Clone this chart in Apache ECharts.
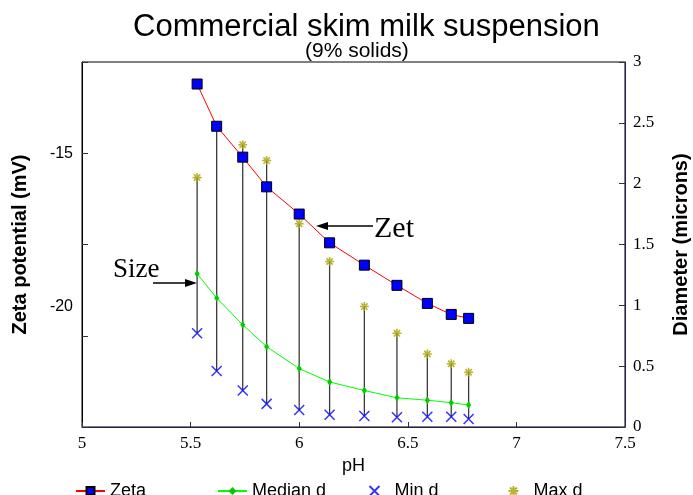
<!DOCTYPE html>
<html>
<head>
<meta charset="utf-8">
<script src="https://cdn.jsdelivr.net/npm/echarts@6/dist/echarts.min.js"></script>
<style>
html,body{margin:0;padding:0;background:#fff;}
#chart{width:693px;height:495px;}
</style>
</head>
<body>
<div id="chart"></div>
<script>
// ---- data ----
var pH      = [5.53, 5.62, 5.74, 5.85, 6.00, 6.14, 6.30, 6.45, 6.59, 6.70, 6.78];
var zeta    = [-12.71, -14.09, -15.10, -16.07, -16.96, -17.90, -18.63, -19.29, -19.88, -20.24, -20.37];
var medianD = [1.26, 1.06, 0.84, 0.66, 0.48, 0.37, 0.30, 0.24, 0.22, 0.20, 0.18];
var minD    = [0.77, 0.46, 0.30, 0.19, 0.14, 0.10, 0.09, 0.08, 0.085, 0.085, 0.066];
var maxD    = [2.05, 2.47, 2.32, 2.19, 1.67, 1.36, 0.99, 0.77, 0.60, 0.52, 0.45];
var xTicks  = [5, 5.5, 6, 6.5, 7, 7.5];
var leftLabels = [-15, -20];

function zip(a, b) { return a.map(function (v, i) { return [v, b[i]]; }); }
var rangeData = pH.map(function (v, i) { return [v, minD[i], maxD[i]]; });

var chart = echarts.init(document.getElementById('chart'), null, {renderer: 'canvas'});
var sans = 'Liberation Sans, Arial, sans-serif';
var serif = 'Liberation Serif, Times New Roman, serif';
var axisCol = '#1e1e50';
var xPath = 'path://M0,0L10,10M10,0L0,10';
var starPath = 'path://M5,0L5,10M0,5L10,5M1.5,1.5L8.5,8.5M8.5,1.5L1.5,8.5';

var option = {
  animation: false,
  backgroundColor: '#fff',
  title: [
    {text: 'Commercial skim milk suspension', left: 128, top: 7,
     textStyle: {fontFamily: sans, fontSize: 31, fontWeight: 'normal', color: '#000'}},
    {text: '(9% solids)', left: 300, top: 36,
     textStyle: {fontFamily: sans, fontSize: 21, fontWeight: 'normal', color: '#000'}}
  ],
  grid: {left: 82, right: 68, top: 62, bottom: 68, show: true, borderColor: '#000', borderWidth: 1,
         outerBoundsMode: 'none', containLabel: false},
  xAxis: {
    type: 'value', min: 5, max: 7.5, interval: 0.5,
    axisLine: {show: true, lineStyle: {color: axisCol, width: 1}},
    axisTick: {inside: true, length: 5, lineStyle: {color: '#333'}},
    axisLabel: {fontFamily: serif, fontSize: 17, color: '#000', margin: 8,
      customValues: xTicks},
    splitLine: {show: false},
    name: 'pH', nameLocation: 'middle', nameGap: 29,
    nameTextStyle: {fontFamily: sans, fontSize: 18, color: '#000'}
  },
  yAxis: [
    {
      type: 'value', position: 'left', min: -23.92, max: -11.99,
      axisLine: {show: true, lineStyle: {color: '#000', width: 1}},
      axisTick: {show: false},
      axisLabel: {customValues: leftLabels, fontFamily: sans, fontSize: 16, color: '#000', margin: 9},
      splitLine: {show: false},
      name: 'Zeta potential (mV)', nameLocation: 'middle', nameGap: 52, nameRotate: 90,
      nameTextStyle: {fontFamily: sans, fontSize: 20, fontWeight: 'bold', color: '#000'}
    },
    {
      type: 'value', position: 'right', min: 0, max: 3, interval: 0.5,
      axisLine: {show: true, lineStyle: {color: axisCol, width: 1}},
      axisTick: {inside: true, length: 6, lineStyle: {color: '#333'}},
      axisLabel: {fontFamily: serif, fontSize: 17, color: '#000', margin: 8},
      splitLine: {show: false},
      name: 'Diameter (microns)', nameLocation: 'middle', nameGap: 46, nameRotate: 90,
      nameTextStyle: {fontFamily: sans, fontSize: 20, fontWeight: 'bold', color: '#000'}
    },
    {
      type: 'value', position: 'left', min: 0, max: 4, interval: 1,
      axisLine: {show: false},
      axisTick: {show: true, inside: true, length: 6, lineStyle: {color: '#333'}},
      axisLabel: {show: false},
      splitLine: {show: false}
    }
  ],
  legend: [
    {data: ['Zeta'], left: 70, top: 477, itemWidth: 29, itemHeight: 10, itemGap: 5,
     textStyle: {fontFamily: sans, fontSize: 18, color: '#000'}},
    {data: ['Median d'], left: 212, top: 477, itemWidth: 29, itemHeight: 10,
     textStyle: {fontFamily: sans, fontSize: 18, color: '#000'}},
    {data: ['Min d'], left: 362, top: 477, itemWidth: 10, itemHeight: 10,
     textStyle: {fontFamily: sans, fontSize: 18, color: '#000', padding: [0, 0, 0, 10]}},
    {data: ['Max d'], left: 501, top: 477, itemWidth: 10, itemHeight: 10,
     textStyle: {fontFamily: sans, fontSize: 18, color: '#000', padding: [0, 0, 0, 10]}}
  ],
  series: [
    {
      name: 'range', type: 'custom', yAxisIndex: 1, z: 1, silent: true,
      data: rangeData,
      encode: {x: 0, y: [1, 2]},
      renderItem: function (params, api) {
        var p1 = api.coord([api.value(0), api.value(1)]);
        var p2 = api.coord([api.value(0), api.value(2)]);
        return {type: 'line', shape: {x1: p1[0], y1: p1[1], x2: p2[0], y2: p2[1]},
                style: {stroke: '#3a3a3a', lineWidth: 1.3}};
      }
    },
    {
      name: 'Zeta', type: 'line', yAxisIndex: 0, z: 6,
      data: zip(pH, zeta),
      lineStyle: {color: '#ff0000', width: 1},
      symbol: 'rect', symbolSize: 10,
      itemStyle: {color: '#0000ff', borderColor: '#000', borderWidth: 1}
    },
    {
      name: 'Median d', type: 'line', yAxisIndex: 1, z: 4,
      data: zip(pH, medianD),
      lineStyle: {color: '#00ff00', width: 1},
      symbol: 'diamond', symbolSize: [5, 8],
      itemStyle: {color: '#00cc00'}
    },
    {
      name: 'Min d', type: 'scatter', yAxisIndex: 1, z: 5,
      data: zip(pH, minD),
      symbol: xPath, symbolSize: 10,
      itemStyle: {color: 'none', borderColor: '#0000ff', borderWidth: 1.5}
    },
    {
      name: 'Max d', type: 'scatter', yAxisIndex: 1, z: 5,
      data: zip(pH, maxD),
      symbol: starPath, symbolSize: 9,
      itemStyle: {color: 'none', borderColor: '#aaa000', borderWidth: 1.6}
    }
  ],
  graphic: [
    {type: 'text', left: 113, top: 256, style: {text: 'Size', font: '27px ' + serif, fill: '#000'}},
    {type: 'line', shape: {x1: 153, y1: 283, x2: 188, y2: 283}, style: {stroke: '#000', lineWidth: 1.6}},
    {type: 'polygon', shape: {points: [[197, 283], [185, 279], [185, 287]]}, style: {fill: '#000'}},
    {type: 'text', left: 374, top: 214, style: {text: 'Zet', font: '30px ' + serif, fill: '#000'}},
    {type: 'line', shape: {x1: 373, y1: 226, x2: 325, y2: 226}, style: {stroke: '#000', lineWidth: 1.6}},
    {type: 'polygon', shape: {points: [[316, 226], [328, 222], [328, 230]]}, style: {fill: '#000'}}
  ]
};
chart.setOption(option);
</script>
</body>
</html>
